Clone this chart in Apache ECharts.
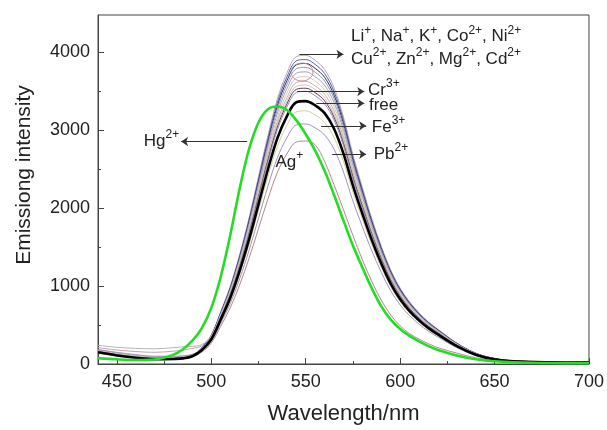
<!DOCTYPE html>
<html><head><meta charset="utf-8">
<script src="https://cdn.jsdelivr.net/npm/echarts@6/dist/echarts.min.js"></script>
<style>html,body{margin:0;padding:0;background:#fff}#c{width:607px;height:430px}</style>
</head><body><div id="c"></div>
<script>
// ---- data ----
const wavelengths = [440,450,460,470,480,485,490,495,500,505,510,515,520,525,530,535,540,545,550,555,560,565,570,575,580,585,590,595,600,605,610,615,620,630,640,650,660,680,700];

const liIon  = [210,180,160,150,165,180,200,235,373,672,995,1404,1878,2407,2935,3405,3733,3945,3962,3898,3780,3545,3170,2688,2266,1867,1514,1209,974,798,657,540,446,270,141,70,41,26,21];
const naIon  = [160,115,85,65,66,75,105,208,368,662,982,1385,1853,2374,2895,3358,3682,3891,3908,3845,3729,3497,3127,2652,2235,1841,1494,1193,961,787,648,533,440,266,139,69,41,25,21];
const kIon   = [170,125,90,68,65,72,100,206,364,654,969,1367,1829,2343,2858,3315,3635,3840,3858,3795,3680,3452,3086,2617,2206,1817,1474,1177,949,777,640,526,434,263,137,69,40,25,21];
const coIon  = [180,140,110,90,90,100,120,203,358,645,956,1349,1805,2312,2820,3271,3587,3790,3807,3745,3632,3407,3046,2583,2177,1794,1455,1162,936,767,632,519,429,259,135,68,39,25,20];
const niIon  = [165,120,90,70,70,80,110,200,353,635,942,1329,1778,2278,2778,3222,3533,3733,3750,3689,3577,3355,3000,2544,2144,1766,1433,1144,922,755,622,511,422,256,133,67,39,24,20];
const cuIon  = [155,115,88,72,75,85,110,197,348,625,926,1307,1749,2241,2733,3170,3476,3672,3689,3629,3519,3301,2951,2503,2109,1738,1410,1126,907,743,612,503,415,251,131,66,38,24,20];
const znIon  = [240,215,200,195,210,220,225,250,360,615,912,1285,1720,2204,2688,3118,3419,3612,3628,3569,3462,3247,2903,2462,2075,1709,1387,1107,892,731,602,495,409,247,129,65,38,24,19];
const mgIon  = [175,135,105,85,85,95,120,191,337,607,900,1269,1698,2175,2653,3077,3374,3565,3581,3523,3416,3204,2865,2430,2048,1687,1369,1093,881,721,594,488,403,244,127,64,37,23,19];
const cdIon  = [150,110,82,66,68,78,105,189,334,600,889,1254,1678,2150,2623,3042,3336,3525,3540,3483,3378,3168,2832,2402,2025,1668,1353,1080,871,713,587,483,399,241,126,63,37,23,19];
const crIon  = [185,150,120,100,100,105,125,187,330,593,880,1241,1659,2126,2593,3007,3298,3484,3500,3443,3339,3132,2800,2375,2001,1649,1338,1068,861,705,581,477,394,239,124,62,36,23,19];
const freeDye= [150,110,80,62,65,72,100,180,318,572,848,1196,1600,2050,2500,2900,3180,3360,3375,3320,3220,3020,2700,2290,1930,1590,1290,1030,830,680,560,460,380,230,120,60,35,22,18];
const feIon  = [140,105,78,62,65,72,95,173,306,551,816,1151,1541,1974,2408,2793,3062,3236,3250,3197,3101,2908,2600,2205,1859,1531,1242,992,799,655,539,443,366,221,116,58,34,21,17];
const pbIon  = [160,118,88,70,72,80,100,164,290,522,774,1092,1461,1872,2283,2648,2903,3068,3081,3031,2940,2757,2465,2091,1762,1452,1178,940,758,621,511,420,347,210,110,55,32,20,16];
const agIon  = [145,108,80,64,66,72,95,153,269,485,719,1014,1357,1738,2120,2459,2697,2849,2862,2815,2600,2300,1980,1650,1340,1060,820,630,490,390,320,260,210,140,80,45,30,19,15];
const hgIon  = [75,60,52,58,120,190,300,460,720,1120,1650,2250,2760,3100,3270,3305,3260,3130,2950,2740,2480,2170,1840,1520,1240,970,740,570,450,360,290,230,180,110,60,35,22,12,10];

const xTickLabels = [450,500,550,600,650,700];
const xMinorTicks = [475,525,575,625,675];
const yTickLabels = [0,1000,2000,3000,4000];
const yMinorTicks = [500,1500,2500,3500];

// ---- styling ----
const seriesDefs = [
  {name:'Li+', data:liIon, color:'#c8a0b0', w:1},
  {name:'Na+', data:naIon, color:'#4a64b4', w:1},
  {name:'K+',  data:kIon,  color:'#2c2c5c', w:1},
  {name:'Co2+',data:coIon, color:'#8c98ac', w:1},
  {name:'Ni2+',data:niIon, color:'#a89cc4', w:1},
  {name:'Cu2+',data:cuIon, color:'#d8cca4', w:1},
  {name:'Zn2+',data:znIon, color:'#b4b4bc', w:1},
  {name:'Mg2+',data:mgIon, color:'#e0bcbc', w:1},
  {name:'Cd2+',data:cdIon, color:'#5c3c4c', w:1},
  {name:'Cr3+',data:crIon, color:'#9890b4', w:1},
  {name:'Fe3+',data:feIon, color:'#d4cc9c', w:1},
  {name:'Pb2+',data:pbIon, color:'#9c94bc', w:1},
  {name:'Ag+', data:agIon, color:'#b48888', w:1},
  {name:'free',data:freeDye,color:'#000000', w:2.6},
  {name:'Hg2+',data:hgIon, color:'#22dd22', w:2.6}
];

// annotations in data coordinates
const arrows = [
  [[546.6,3975],[570,3975]],
  [[545.5,3497],[581,3497]],
  [[555.6,3346],[581,3346]],
  [[558.2,3057],[582,3057]],
  [[564,2692],[582,2692]],
  [[519,2855],[484,2855]]
];
const labels = [
  {at:[574,4226], align:'left',  parts:[['Li','+'],[', Na','+'],[', K','+'],[', Co','2+'],[', Ni','2+']]},
  {at:[574,3937], align:'left',  parts:[['Cu','2+'],[', Zn','2+'],[', Mg','2+'],[', Cd','2+']]},
  {at:[583,3535], align:'left',  parts:[['Cr','3+']]},
  {at:[583.5,3346], align:'left',parts:[['free','']]},
  {at:[585,3069], align:'left',  parts:[['Fe','3+']]},
  {at:[586,2717], align:'left',  parts:[['Pb','2+']]},
  {at:[483,2880], align:'right', parts:[['Hg','2+']]},
  {at:[534,2616], align:'left',  parts:[['Ag','+']]}
];
const ellipseAt = [548,3748];

const FONT = '"Liberation Sans", Arial, sans-serif';
const chart = echarts.init(document.getElementById('c'), null, {renderer:'canvas'});

const series = seriesDefs.map(d => ({
  name:d.name, type:'line', smooth:0.35, showSymbol:false, symbol:'none',
  data: wavelengths.map((x,i)=>[x,d.data[i]]),
  lineStyle:{color:d.color, width:d.w}, itemStyle:{color:d.color},
  z: d.w>1 ? 5 : 3, animation:false, silent:true
}));
series[13].markLine = {
  silent:true, animation:false, symbol:['none','arrow'], symbolSize:7,
  label:{show:false}, lineStyle:{color:'#333', width:1, type:'solid'},
  emphasis:{disabled:true},
  data: arrows.map(a=>[{coord:a[0]},{coord:a[1]}])
};

chart.setOption({
  animation:false,
  backgroundColor:'#fff',
  grid:{left:98, right:17, top:15, bottom:59, show:true, borderColor:'#444', borderWidth:1, backgroundColor:'transparent'},
  xAxis:[
    {type:'value', min:440, max:700,
      axisLine:{show:true, lineStyle:{color:'#444', width:1}}, splitLine:{show:false},
      axisTick:{show:true, inside:true, length:6, customValues:xTickLabels, lineStyle:{color:'#444'}},
      axisLabel:{show:true, customValues:xTickLabels, fontSize:18, color:'#222', fontFamily:FONT, margin:9,
        formatter: v => String(v)},
      name:'Wavelength/nm', nameLocation:'middle', nameGap:39,
      nameTextStyle:{fontSize:22, color:'#222', fontFamily:FONT}
    },
    {type:'value', min:440, max:700, gridIndex:0, position:'bottom',
      axisLine:{show:false}, axisLabel:{show:false}, splitLine:{show:false},
      axisTick:{show:true, inside:true, length:3, customValues:xMinorTicks, lineStyle:{color:'#444'}}}
  ],
  yAxis:[
    {type:'value', min:0, max:4480,
      axisLine:{show:true, lineStyle:{color:'#444', width:1}}, splitLine:{show:false},
      axisTick:{show:true, inside:true, length:6, customValues:yTickLabels, lineStyle:{color:'#444'}},
      axisLabel:{show:true, customValues:yTickLabels, fontSize:18, color:'#222', fontFamily:FONT, margin:8,
        formatter: v => String(v)}
    },
    {type:'value', min:0, max:4480, position:'left',
      axisLine:{show:false}, axisLabel:{show:false}, splitLine:{show:false},
      axisTick:{show:true, inside:true, length:3, customValues:yMinorTicks, lineStyle:{color:'#444'}}}
  ],
  series: series
});

function richText(parts){
  return parts.map(p => '{b|'+p[0]+'}' + (p[1] ? '{s|'+p[1]+'}' : '')).join('');
}
const rich = {
  b:{fontSize:17, fontFamily:FONT, fill:'#222', color:'#222', lineHeight:21, verticalAlign:'bottom'},
  s:{fontSize:12, fontFamily:FONT, fill:'#222', color:'#222', lineHeight:21, verticalAlign:'top'}
};
const graphics = labels.map(l => {
  const p = chart.convertToPixel({xAxisIndex:0, yAxisIndex:0}, l.at);
  return {type:'text', x:p[0], y:p[1], silent:true, z:10,
    style:{text:richText(l.parts), rich:rich, align:l.align, verticalAlign:'middle', fill:'#222', font:'17px '+FONT}};
});
const ep = chart.convertToPixel({xAxisIndex:0, yAxisIndex:0}, ellipseAt);
graphics.push({type:'ellipse', shape:{cx:ep[0], cy:ep[1], rx:11, ry:9}, silent:true, z:4,
  style:{fill:'none', stroke:'#c49098', lineWidth:1}});
graphics.push({type:'text', x:24, y:175, rotation:Math.PI/2, silent:true,
  style:{text:'Emissiong intensity', font:'21px '+FONT, fill:'#222', align:'center', verticalAlign:'middle'}});
chart.setOption({graphic:graphics});
</script></body></html>
